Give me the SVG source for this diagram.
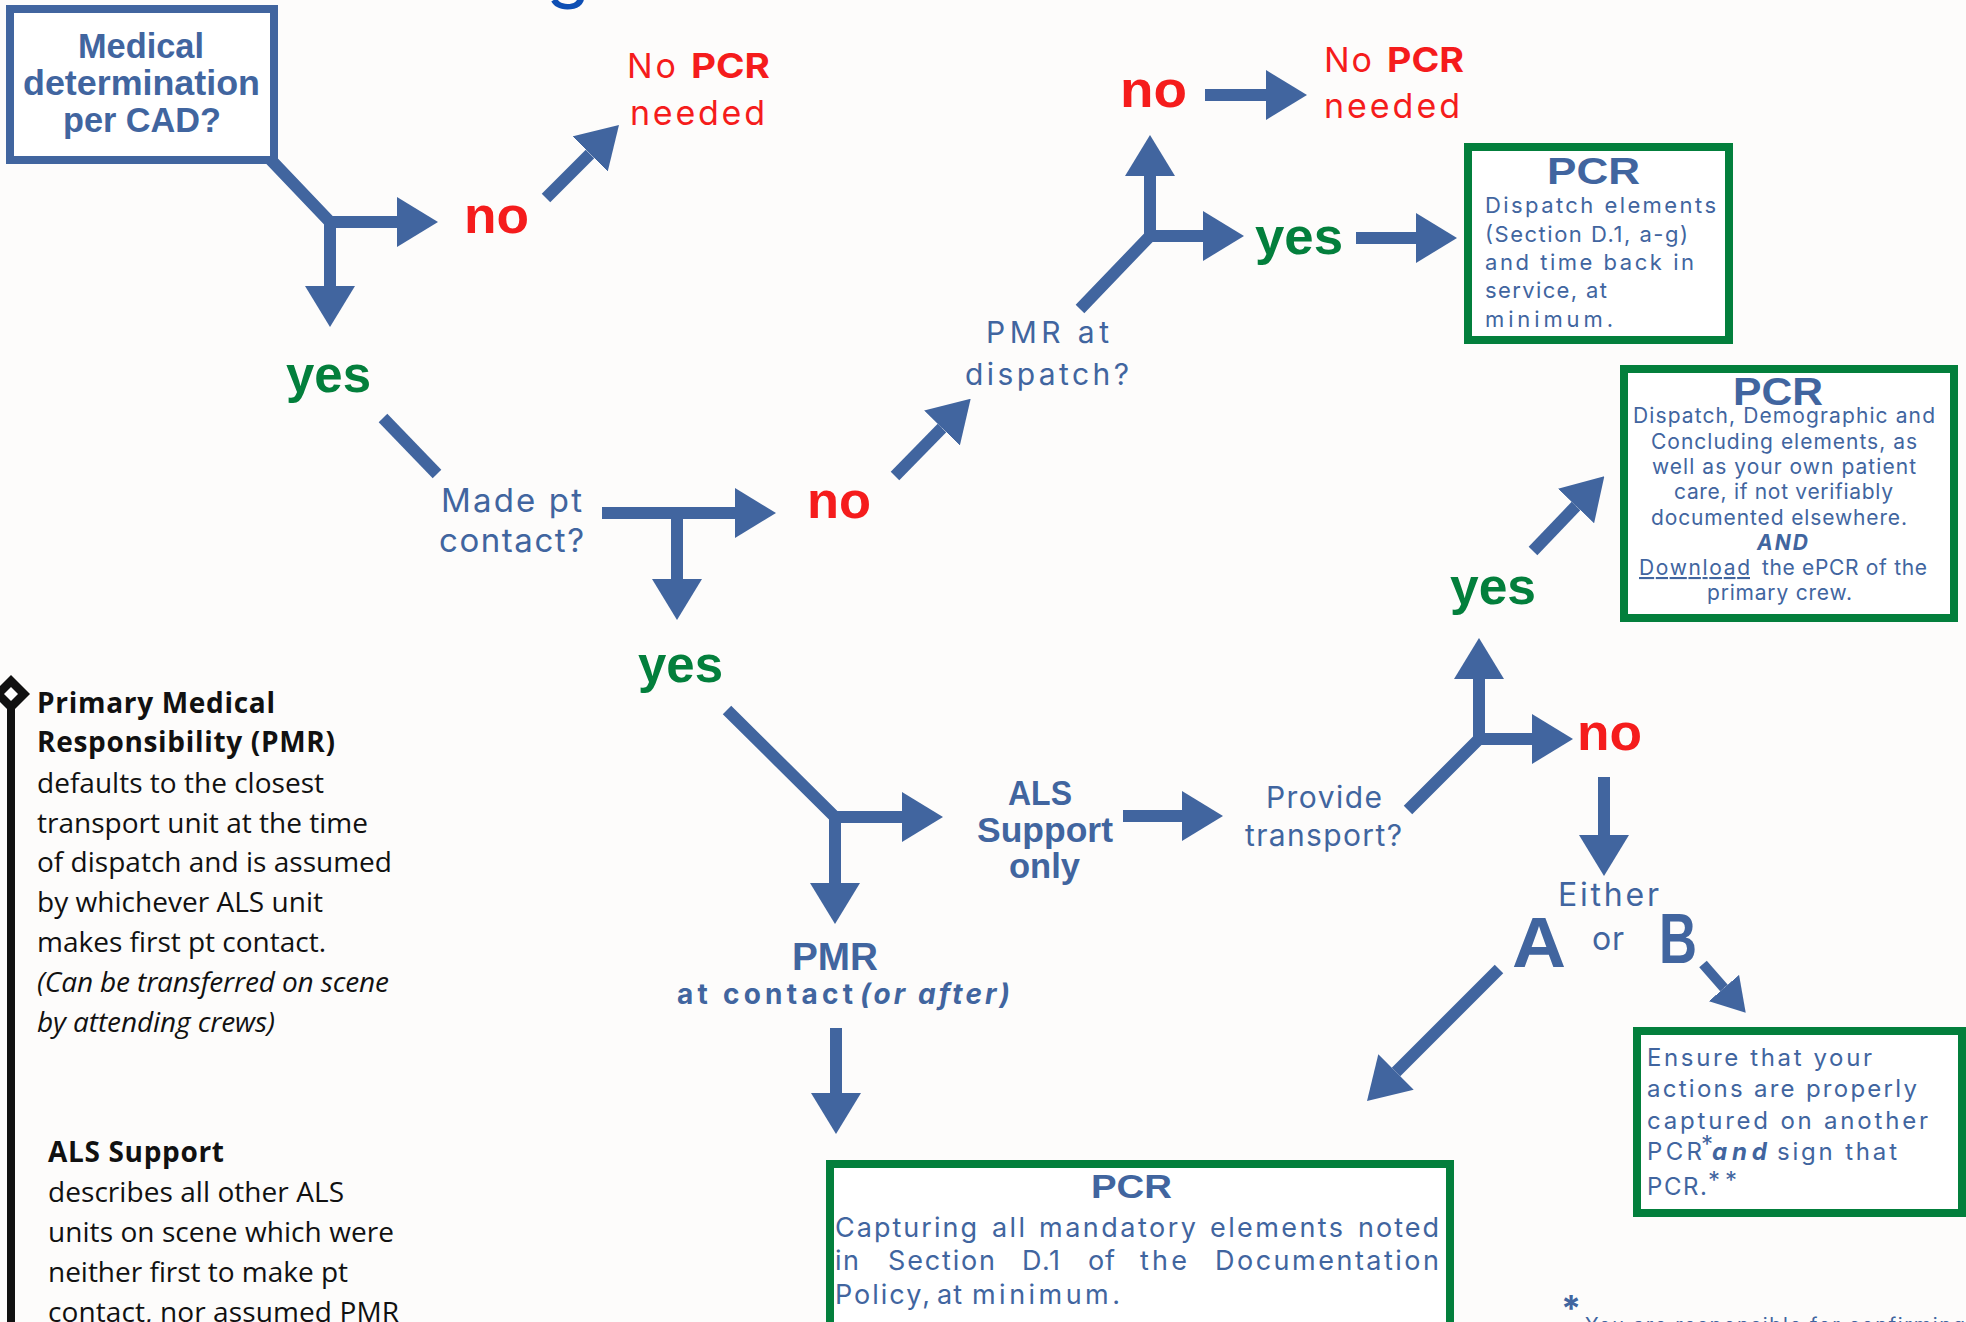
<svg xmlns="http://www.w3.org/2000/svg" width="1966" height="1322" viewBox="0 0 1966 1322">
<style>
.bg{fill:#FDFCFB}
.box{fill:#FFFFFF;stroke:#41659F;stroke-width:8}
.gbox{fill:#FFFFFF;stroke:#037F3C;stroke-width:8}
.c path{fill:none;stroke:#41659F;stroke-width:12;stroke-linejoin:miter}
.m{font-family:Inter,"Noto Sans","Liberation Sans",sans-serif;fill:#41659F}
.hb{font-family:"Liberation Sans",Arial,sans-serif;font-weight:700;fill:#41659F}
.no{font-family:"Liberation Sans",Arial,sans-serif;font-weight:700;font-size:52px;fill:#F51C1C}
.yes{font-family:"Liberation Sans",Arial,sans-serif;font-weight:700;font-size:52px;fill:#037F3C}
.red{fill:#F51C1C}
.leg{font-family:"Open Sans","Liberation Sans",sans-serif;font-size:28px;fill:#111111}
.bold{font-weight:700}
.it{font-style:italic}
</style>
<defs>
<marker id="ah" markerUnits="userSpaceOnUse" markerWidth="41" markerHeight="50" viewBox="0 0 41 50" refX="0" refY="25" orient="auto"><path d="M0,0 L41,25 L0,50 Z" fill="#41659F"/></marker>
<marker id="ahs" markerUnits="userSpaceOnUse" markerWidth="33" markerHeight="40" viewBox="0 0 33 40" refX="0" refY="20" orient="auto"><path d="M0,0 L33,20 L0,40 Z" fill="#41659F"/></marker>
</defs>
<rect class="bg" x="0" y="0" width="1966" height="1322"/>

<text class="m" x="546" y="-6" font-size="72" style="fill:#0E4FB4">g</text>

<g id="connectors" class="c">
<path d="M270,159 L330,222 L397,222" marker-end="url(#ah)"/>
<path d="M330,222 L330,286" marker-end="url(#ah)"/>
<path d="M546,198 L590,154" marker-end="url(#ah)"/>
<path d="M383,418 L437,474"/>
<path d="M602,513 L735,513" marker-end="url(#ah)"/>
<path d="M677,513 L677,579" marker-end="url(#ah)"/>
<path d="M895,476 L942,428" marker-end="url(#ah)"/>
<path d="M1080,309 L1150,236 L1203,236" marker-end="url(#ah)"/>
<path d="M1150,236 L1150,176" marker-end="url(#ah)"/>
<path d="M1205,95 L1266,95" marker-end="url(#ah)"/>
<path d="M1356,238 L1416,238" marker-end="url(#ah)"/>
<path d="M1408,810 L1479,739 L1532,739" marker-end="url(#ah)"/>
<path d="M1479,739 L1479,679" marker-end="url(#ah)"/>
<path d="M1533,551 L1576,506" marker-end="url(#ah)"/>
<path d="M1604,777 L1604,835" marker-end="url(#ah)"/>
<path d="M1499,969 L1396,1072" marker-end="url(#ah)"/>
<path d="M1703,964 L1724,988" marker-end="url(#ahs)" style="stroke-width:10"/>
<path d="M727,710 L835,817 L902,817" marker-end="url(#ah)"/>
<path d="M835,817 L835,883" marker-end="url(#ah)"/>
<path d="M1123,816 L1182,816" marker-end="url(#ah)"/>
<path d="M836,1028 L836,1093" marker-end="url(#ah)"/>
</g>

<g id="start">
<rect class="box" x="10" y="9" width="264" height="151"/>
<text class="hb" font-size="35" x="78" y="58" textLength="126" lengthAdjust="spacingAndGlyphs">Medical</text>
<text class="hb" font-size="35" x="23" y="95" textLength="237" lengthAdjust="spacingAndGlyphs">determination</text>
<text class="hb" font-size="35" x="63" y="132" textLength="158" lengthAdjust="spacingAndGlyphs">per CAD?</text>
</g>

<g id="no1"><text class="no" x="464" y="233" textLength="65" lengthAdjust="spacingAndGlyphs">no</text></g>
<g id="nopcr1">
<text class="m red" font-size="34" y="78"><tspan x="627" textLength="49">No</tspan><tspan x="691" class="bold" textLength="79" lengthAdjust="spacingAndGlyphs">PCR</tspan></text>
<text class="m red" font-size="34" x="630" y="125" textLength="135">needed</text>
</g>
<g id="yes1"><text class="yes" x="286" y="392" textLength="85" lengthAdjust="spacingAndGlyphs">yes</text></g>

<g id="madeptcontact">
<text class="m" font-size="33" x="441" y="512" textLength="141">Made pt</text>
<text class="m" font-size="33" x="439" y="552" textLength="145">contact?</text>
</g>
<g id="no3"><text class="no" x="807" y="518" textLength="64" lengthAdjust="spacingAndGlyphs">no</text></g>
<g id="yes3"><text class="yes" x="638" y="682" textLength="85" lengthAdjust="spacingAndGlyphs">yes</text></g>

<g id="pmrdispatch">
<text class="m" font-size="30" x="986" y="343" textLength="123">PMR at</text>
<text class="m" font-size="30" x="965" y="385" textLength="164">dispatch?</text>
</g>
<g id="no2"><text class="no" x="1120" y="107" textLength="67" lengthAdjust="spacingAndGlyphs">no</text></g>
<g id="nopcr2">
<text class="m red" font-size="34" y="72"><tspan x="1324" textLength="48">No</tspan><tspan x="1387" class="bold" textLength="77" lengthAdjust="spacingAndGlyphs">PCR</tspan></text>
<text class="m red" font-size="34" x="1324" y="118" textLength="136">needed</text>
</g>
<g id="yes2"><text class="yes" x="1255" y="254" textLength="88" lengthAdjust="spacingAndGlyphs">yes</text></g>

<g id="pcr1">
<rect class="gbox" x="1468" y="147" width="261" height="193"/>
<text class="hb" font-size="37" x="1547" y="184" textLength="93" lengthAdjust="spacingAndGlyphs">PCR</text>
<text class="m" font-size="22" x="1485" y="213" textLength="231">Dispatch elements</text>
<text class="m" font-size="22" x="1485" y="242" textLength="203">(Section D.1, a-g)</text>
<text class="m" font-size="22" x="1485" y="270" textLength="209">and time back in</text>
<text class="m" font-size="22" x="1485" y="298" textLength="122">service, at</text>
<text class="m" font-size="22" x="1485" y="327" textLength="128">minimum.</text>
</g>

<g id="pcr2">
<rect class="gbox" x="1624" y="369" width="330" height="249"/>
<text class="hb" font-size="39" x="1733" y="405" textLength="90" lengthAdjust="spacingAndGlyphs">PCR</text>
<text class="m" font-size="21" x="1633" y="423" textLength="302">Dispatch, Demographic and</text>
<text class="m" font-size="21" x="1651" y="449" textLength="266">Concluding elements, as</text>
<text class="m" font-size="21" x="1652" y="474" textLength="264">well as your own patient</text>
<text class="m" font-size="21" x="1674" y="499" textLength="219">care, if not verifiably</text>
<text class="m" font-size="21" x="1651" y="525" textLength="256">documented elsewhere.</text>
<text class="m bold it" font-size="21" x="1757" y="550" textLength="51">AND</text>
<text class="m" font-size="21" y="575"><tspan x="1639" textLength="111" style="text-decoration:underline">Download</tspan><tspan x="1762" textLength="165">the ePCR of the</tspan></text>
<text class="m" font-size="21" x="1707" y="600" textLength="145">primary crew.</text>
</g>

<g id="provide">
<text class="m" font-size="30" x="1266" y="808" textLength="116">Provide</text>
<text class="m" font-size="30" x="1245" y="846" textLength="157">transport?</text>
</g>
<g id="yes4"><text class="yes" x="1450" y="604" textLength="86" lengthAdjust="spacingAndGlyphs">yes</text></g>
<g id="no4"><text class="no" x="1577" y="750" textLength="65" lengthAdjust="spacingAndGlyphs">no</text></g>

<g id="either">
<text class="m" font-size="32" x="1558" y="906" textLength="101">Either</text>
<text class="m" font-size="32" x="1592" y="950" textLength="32">or</text>
<text class="hb" font-size="70" x="1512" y="967" textLength="54" lengthAdjust="spacingAndGlyphs">A</text>
<text class="hb" font-size="70" x="1659" y="963" textLength="38" lengthAdjust="spacingAndGlyphs">B</text>
</g>

<g id="boxB">
<rect class="gbox" x="1637" y="1031" width="325" height="182"/>
<text class="m" font-size="24" x="1647" y="1066" textLength="225">Ensure that your</text>
<text class="m" font-size="24" x="1647" y="1097" textLength="270">actions are properly</text>
<text class="m" font-size="24" x="1647" y="1129" textLength="281">captured on another</text>
<text class="m" font-size="24" y="1160"><tspan x="1647" textLength="55">PCR</tspan><tspan x="1701" y="1153" font-size="24">*</tspan><tspan x="1712" y="1160" class="bold it" textLength="55">and</tspan><tspan x="1777" textLength="120">sign that</tspan></text>
<text class="m" font-size="24" y="1195"><tspan x="1647" textLength="60">PCR.</tspan><tspan x="1708" y="1189" font-size="24" textLength="29">**</tspan></text>
</g>

<g id="als">
<text class="hb" font-size="35" x="1008" y="805" textLength="64" lengthAdjust="spacingAndGlyphs">ALS</text>
<text class="hb" font-size="35" x="977" y="842" textLength="136" lengthAdjust="spacingAndGlyphs">Support</text>
<text class="hb" font-size="35" x="1009" y="878" textLength="71" lengthAdjust="spacingAndGlyphs">only</text>
</g>

<g id="pmrcontact">
<text class="hb" font-size="38" x="792" y="970" textLength="86" lengthAdjust="spacingAndGlyphs">PMR</text>
<text class="m bold" font-size="28" y="1004"><tspan x="677" textLength="176">at contact</tspan><tspan x="860" class="it" textLength="150">(or after)</tspan></text>
</g>

<g id="pcr3">
<rect class="gbox" x="830" y="1164" width="620" height="200"/>
<text class="hb" font-size="33" x="1091" y="1198" textLength="81" lengthAdjust="spacingAndGlyphs">PCR</text>
<text class="m" font-size="27" y="1237"><tspan x="835" textLength="142">Capturing</tspan><tspan x="992" textLength="33">all</tspan><tspan x="1039" textLength="157">mandatory</tspan><tspan x="1210" textLength="133">elements</tspan><tspan x="1358" textLength="81">noted</tspan></text>
<text class="m" font-size="27" y="1270"><tspan x="835" textLength="24">in</tspan><tspan x="888" textLength="107">Section</tspan><tspan x="1022" textLength="38">D.1</tspan><tspan x="1088" textLength="27">of</tspan><tspan x="1140" textLength="47">the</tspan><tspan x="1215" textLength="224">Documentation</tspan></text>
<text class="m" font-size="27" y="1304"><tspan x="835" textLength="95">Policy,</tspan><tspan x="937" textLength="25">at</tspan><tspan x="972" textLength="148">minimum.</tspan></text>
</g>

<g id="footnote">
<text class="m bold" font-size="36" x="1561" y="1321">*</text>
<text class="m" font-size="20" x="1585" y="1332" textLength="380">You are responsible for confirming</text>
</g>

<g id="legend">
<path d="M11,700 L11,1322" stroke="#111111" stroke-width="8" fill="none"/>
<polygon points="11,675 30,694 11,713 -8,694" fill="#111111"/>
<polygon points="11,687 18,694 11,701 4,694" fill="#FFFFFF"/>
<text class="leg bold" x="37" y="713" textLength="238">Primary Medical</text>
<text class="leg bold" x="37" y="752" textLength="298">Responsibility (PMR)</text>
<text class="leg" x="37" y="793" textLength="287">defaults to the closest</text>
<text class="leg" x="37" y="833" textLength="331">transport unit at the time</text>
<text class="leg" x="37" y="872" textLength="355">of dispatch and is assumed</text>
<text class="leg" x="37" y="912" textLength="286">by whichever ALS unit</text>
<text class="leg" x="37" y="952" textLength="289">makes first pt contact.</text>
<text class="leg it" x="37" y="992" textLength="352">(Can be transferred on scene</text>
<text class="leg it" x="37" y="1032" textLength="238">by attending crews)</text>
<text class="leg bold" x="48" y="1162" textLength="176">ALS Support</text>
<text class="leg" x="48" y="1202" textLength="296">describes all other ALS</text>
<text class="leg" x="48" y="1242" textLength="346">units on scene which were</text>
<text class="leg" x="48" y="1282" textLength="300">neither first to make pt</text>
<text class="leg" x="48" y="1322" textLength="351">contact, nor assumed PMR</text>
</g>
</svg>
